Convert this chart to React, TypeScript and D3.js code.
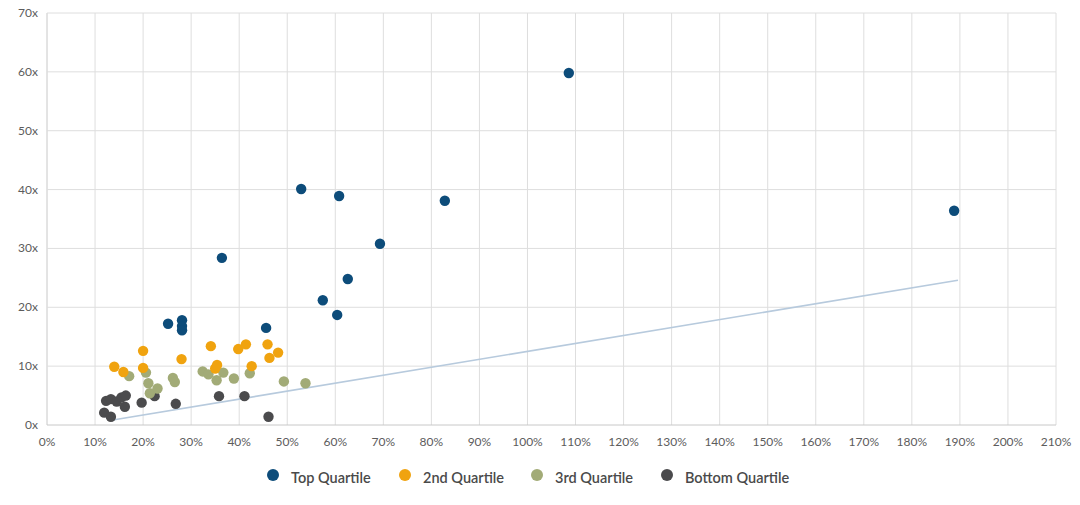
import * as d3 from 'd3'
import React, { useEffect, useRef } from 'react'

// [growth %, multiple x]
const topQuartile: [number, number][] = [
  [108.6, 59.8], [188.8, 36.4], [52.9, 40.1], [60.8, 38.9], [82.8, 38.1],
  [69.3, 30.8], [62.6, 24.8], [36.4, 28.4], [57.4, 21.2], [60.4, 18.7],
  [25.2, 17.2], [28.1, 17.8], [28.1, 16.8], [28.1, 16.1], [45.6, 16.5],
]
const secondQuartile: [number, number][] = [
  [14.0, 9.9], [15.9, 9.0], [20.0, 12.6], [20.0, 9.7], [28.0, 11.2],
  [34.1, 13.4], [35.0, 9.6], [35.4, 10.2], [39.8, 12.9], [41.4, 13.7],
  [42.6, 10.0], [45.9, 13.7], [46.3, 11.4], [48.1, 12.3],
]
const thirdQuartile: [number, number][] = [
  [17.1, 8.3], [20.6, 8.9], [21.1, 7.1], [21.4, 5.4], [23.0, 6.2],
  [26.2, 8.0], [26.6, 7.3], [32.4, 9.1], [33.6, 8.6], [35.3, 7.6],
  [36.7, 8.9], [38.9, 7.9], [42.2, 8.8], [49.3, 7.4], [53.8, 7.1],
]
const bottomQuartile: [number, number][] = [
  [11.9, 2.1], [12.3, 4.1], [13.3, 4.4], [13.3, 1.4], [14.5, 4.0],
  [15.5, 4.7], [16.4, 5.0], [16.2, 3.1], [19.7, 3.8], [22.4, 4.9],
  [26.8, 3.6], [35.8, 4.9], [41.1, 4.9], [46.1, 1.4],
]
const trendLine: [number, number][] = [[13.7, 0.85], [189.6, 24.6]]

const seriesNames = ['Top Quartile', '2nd Quartile', '3rd Quartile', 'Bottom Quartile']
const seriesColors = ['#0d4c7a', '#f0a30f', '#a2ab77', '#4b4b4d']
const xTicks = d3.range(0, 211, 10)
const yTicks = d3.range(0, 71, 10)

const W = 1080
const H = 505

const App = () => {
  const ref = useRef<SVGSVGElement>(null)

  useEffect(() => {
    const svg = d3.select(ref.current)
    svg.selectAll('*').remove()

    const margin = { top: 13, right: 24, bottom: 80, left: 47 }
    const x = d3.scaleLinear().domain([0, 210]).range([margin.left, W - margin.right])
    const y = d3.scaleLinear().domain([0, 70]).range([H - margin.bottom, margin.top])

    const font = 'Lato, "Open Sans", sans-serif'

    // grid
    svg.append('g')
      .selectAll('line')
      .data(xTicks)
      .join('line')
      .attr('x1', d => x(d)).attr('x2', d => x(d))
      .attr('y1', y(70)).attr('y2', y(0))
      .attr('stroke', d => (d === 0 ? '#c8c8c8' : '#dedede'))
      .attr('stroke-width', 1)

    svg.append('g')
      .selectAll('line')
      .data(yTicks)
      .join('line')
      .attr('x1', x(0)).attr('x2', x(210))
      .attr('y1', d => y(d)).attr('y2', d => y(d))
      .attr('stroke', d => (d === 0 ? '#c8c8c8' : '#dedede'))
      .attr('stroke-width', 1)

    // tick labels
    svg.append('g')
      .selectAll('text')
      .data(yTicks)
      .join('text')
      .attr('x', x(0) - 9)
      .attr('y', d => y(d) + 4)
      .attr('text-anchor', 'end')
      .attr('font-family', font)
      .attr('font-size', 12)
      .attr('fill', '#5c5c5c')
      .text(d => `${d}x`)

    svg.append('g')
      .selectAll('text')
      .data(xTicks)
      .join('text')
      .attr('x', d => x(d))
      .attr('y', y(0) + 21)
      .attr('text-anchor', 'middle')
      .attr('font-family', font)
      .attr('font-size', 12)
      .attr('fill', '#5c5c5c')
      .text(d => `${d}%`)

    // trend line
    svg.append('path')
      .datum(trendLine)
      .attr('d', d3.line<[number, number]>().x(d => x(d[0])).y(d => y(d[1])))
      .attr('fill', 'none')
      .attr('stroke', '#b7cadd')
      .attr('stroke-width', 1.6)

    const allSeries = [topQuartile, secondQuartile, thirdQuartile, bottomQuartile]
    // draw bottom first so top quartile sits above
    allSeries.slice().reverse().forEach((s, ri) => {
      const i = allSeries.length - 1 - ri
      svg.append('g')
        .selectAll('circle')
        .data(s)
        .join('circle')
        .attr('cx', d => x(d[0]))
        .attr('cy', d => y(d[1]))
        .attr('r', 5.2)
        .attr('fill', seriesColors[i])
    })

    // legend
    const legendX = [273, 405, 537, 667]
    const lg = svg.append('g')
    seriesNames.forEach((name, i) => {
      lg.append('circle')
        .attr('cx', legendX[i])
        .attr('cy', 475)
        .attr('r', 6)
        .attr('fill', seriesColors[i])
      lg.append('text')
        .attr('x', legendX[i] + 18)
        .attr('y', 483)
        .attr('font-family', font)
        .attr('font-size', 14.5)
        .attr('font-weight', 600)
        .attr('fill', '#4a4a4a')
        .text(name)
    })
  }, [])

  return (
    <svg
      ref={ref}
      width={W}
      height={H}
      style={{ position: 'absolute', left: 0, top: 0, background: '#fff' }}
    />
  )
}

export default App
